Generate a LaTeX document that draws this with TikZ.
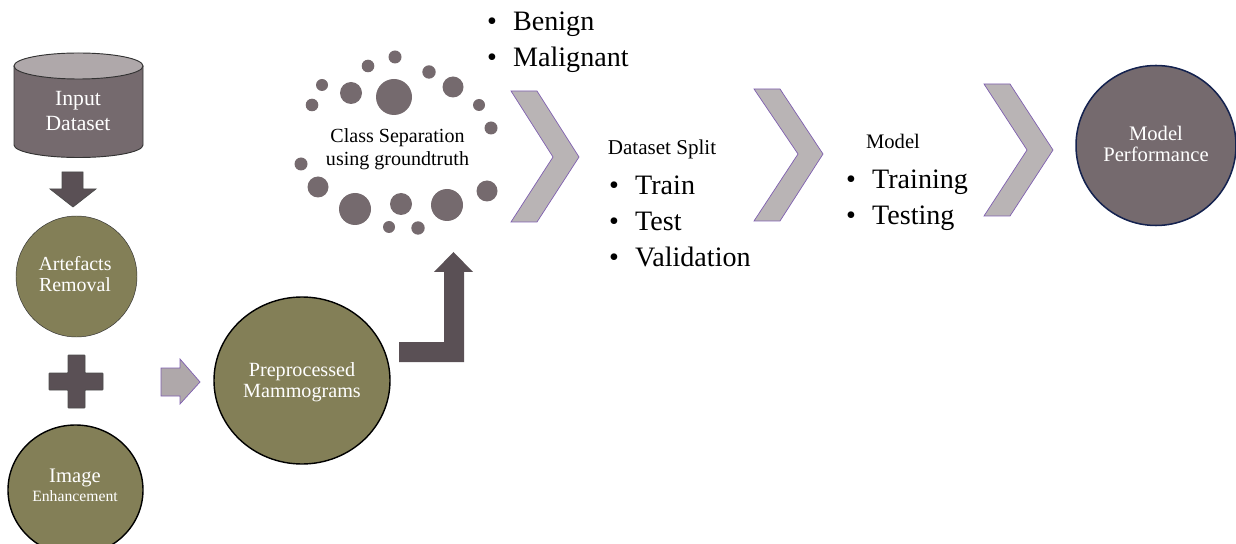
\documentclass[tikz,border=0pt]{standalone}
\usepackage{fontspec}
\setmainfont{Liberation Serif}
\definecolor{olivefill}{HTML}{837F57}
\definecolor{mauvefill}{HTML}{756A6E}
\definecolor{mauvelight}{HTML}{AFA8AA}
\definecolor{darkfill}{HTML}{5A5055}
\definecolor{chevfill}{HTML}{B9B4B5}
\definecolor{chevline}{HTML}{7F5FB0}
\definecolor{navyline}{HTML}{14224F}
\newcommand{\bulletItem}[1]{\makebox[22.1pt][l]{•}#1}
\begin{document}
\begin{tikzpicture}
	[
		x=0.03cm, y=-0.03cm,
		every node/.style={align=center, inner sep=0pt},
		lightText/.style={text=white, font=\fontsize{17.6}{18}\selectfont},
		darkText/.style={text=black, font=\fontsize{17.6}{19.5}\selectfont},
		bulletText/.style={text=black, anchor=base west, font=\fontsize{24}{28}\selectfont},
		blockDark/.style={draw=black!70, fill=darkfill, semithick},
		chevron/.style={draw=chevline, fill=chevfill, semithick},
		discLine/.style={draw=black, line width=1.2pt},
	]
	\useasboundingbox (0,0) rectangle (1236,544);

	% cylinder
	\draw [fill=mauvefill, draw=black!80, thick] (14,66) -- (14,145) arc [start angle=180, end angle=360, x radius=64.5, y radius=-12.5] -- (143,66);
	\draw [fill=mauvelight, draw=black!80, thick] (78.5,66) ellipse [x radius=64.5, y radius=13];
	\node (input) at (78,111) [lightText, font=\fontsize{18.5}{22}\selectfont] {Input\\Dataset};

	% left column
	\draw [blockDark] (62,172) -- (83,172) -- (83,189) -- (96,189) -- (73,207) -- (50,189) -- (62,189) -- cycle;
	\draw [fill=olivefill, draw=black!80] (76.5,276.5) circle [radius=60.5];
	\node (artefacts) at (75,274.5) [lightText, font=\fontsize{17}{18}\selectfont] {Artefacts\\Removal};
	\draw [blockDark, rounded corners=0.5pt] (68,355) -- (85,355) -- (85,373) -- (103,373) -- (103,390) -- (85,390) -- (85,408) -- (68,408) -- (68,390) -- (49,390) -- (49,373) -- (68,373) -- cycle;
	\draw [fill=olivefill, discLine] (75.5,490) ellipse [x radius=67.5, y radius=65];
	\node (image) at (75,478) [lightText] {Image};
	\node (enhance) at (75,496) [text=white, font=\fontsize{13.4}{15}\selectfont] {Enhancement};

	% preprocessing
	\draw [chevron, fill=mauvelight] (161,368) -- (180,368) -- (180,359) -- (200,382) -- (180,404) -- (180,396) -- (161,396) -- cycle;
	\draw [fill=olivefill, discLine] (302,380.5) ellipse [x radius=88, y radius=83.5];
	\node (prep) at (302,382) [lightText, font=\fontsize{17.2}{18}\selectfont] {Preprocessed\\Mammograms};
	\draw [fill=darkfill, draw=none] (399,342) -- (444,342) -- (444,272) -- (434,272) -- (453.5,252) -- (473,272) -- (464,272) -- (464,362) -- (399,362) -- cycle;

	% class separation
	\foreach \px/\py/\pr in {395/57/6.5, 368/66/6.3, 429/72/6.7, 322/85/6, 351/93/11, 394/97/18, 453/87/10.5, 312/105/6.3, 479/105/6, 491/128/6.5, 301/164/6.5, 318/187/10.5, 487/191/10.5, 355/209/16, 447/205/16, 401/204/11, 389/227/6, 418/228/6.7}
		\fill [mauvefill] (\px,\py) circle [radius=\pr];
	\node (classes) at (397.5,149) [darkText, font=\fontsize{17.1}{19.5}\selectfont] {Class Separation\\using groundtruth};

	% chevrons
	\draw [chevron] (511,91) -- (537,91) -- (579,157) -- (537,222) -- (511,222) -- (553,157) -- cycle;
	\draw [chevron] (754,89) -- (780,89) -- (823,154) -- (780,221) -- (754,221) -- (798,154) -- cycle;
	\draw [chevron] (984,84) -- (1010,84) -- (1053,150) -- (1010,216) -- (984,216) -- (1027,150) -- cycle;

	% bullet lists
	\node (benign) at (487,31) [bulletText] {\bulletItem{Benign}};
	\node (malignant) at (487,67) [bulletText] {\bulletItem{Malignant}};
	\node (split) at (662,149) [darkText, font=\fontsize{18}{20}\selectfont] {Dataset Split};
	\node (train) at (609,195) [bulletText] {\bulletItem{Train}};
	\node (test) at (609,231) [bulletText] {\bulletItem{Test}};
	\node (valid) at (609,267) [bulletText] {\bulletItem{Validation}};
	\node (model) at (893,141) [darkText] {Model};
	\node (training) at (846,189) [bulletText] {\bulletItem{Training}};
	\node (testing) at (846,225) [bulletText] {\bulletItem{Testing}};

	% performance
	\draw [fill=mauvefill, draw=navyline, line width=1.3pt] (1156,145.5) circle [radius=80];
	\node (perf) at (1156,144) [lightText] {Model\\Performance};
\end{tikzpicture}
\end{document}
